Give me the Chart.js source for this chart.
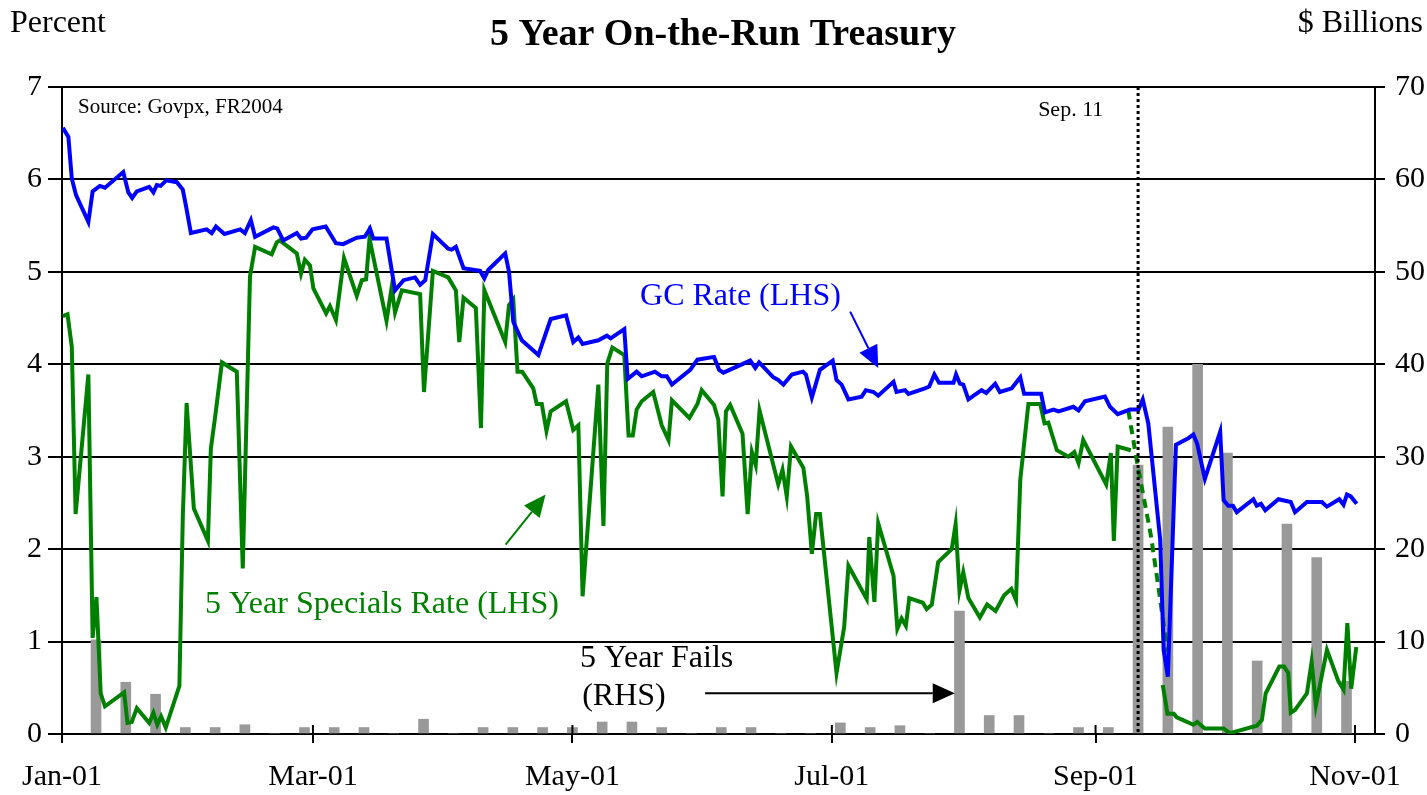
<!DOCTYPE html>
<html>
<head>
<meta charset="utf-8">
<script src="https://cdn.jsdelivr.net/npm/chart.js@4"></script>
<style>
  body { margin: 0; background: #fff; }
</style>
</head>
<body>
<canvas id="chart" width="1427" height="795"></canvas>
<script>
// 5 Year On-the-Run Treasury -- days counted from Jan 1, 2001

const tickDays = [0, 59, 120, 181, 243, 304];
const tickLabels = ["Jan-01", "Mar-01", "May-01", "Jul-01", "Sep-01", "Nov-01"];

// GC rate (LHS, percent)
const gcDays = [0.2, 1.5, 2.3, 3.3, 6.2, 7.2, 8.9, 10.1, 14.4, 15.6, 16.5, 17.6, 20.5, 21.5, 22.3, 23.2, 24.5, 27, 28.4, 29.2,
  30.3, 34, 35.2, 36.2, 38.2, 41.9, 43, 44.4, 45.4, 49.7, 50.6, 52, 55.2, 56.2, 57.4, 58.9, 62, 64.4, 66.1, 69.3,
  71.2, 72.4, 73.2, 76.3, 78.3, 80.3, 83, 84.2, 85.4, 87.2, 90.8, 91.6, 92.6, 94.4, 98.3, 99.3, 100.2, 104.2, 105.1, 106.1,
  108.1, 112, 114.9, 118.5, 120.2, 121.4, 122.4, 126.1, 128.1, 129, 132.2, 133, 135.1, 136.3, 139.4, 141, 142.2, 143.4, 147.7, 149.4,
  153.3, 154.5, 155.5, 161.8, 163, 163.9, 167.2, 168.4, 169.6, 171.6, 174.2, 174.9, 176.3, 178.2, 181.2, 182.1, 183.3, 184.9, 188, 189,
  190.8, 191.9, 195.5, 196.2, 198.2, 199, 202.9, 203.9, 205.1, 206.2, 209.6, 210.2, 211.1, 211.9, 213.1, 216.2, 217.3, 219.4, 220.5, 223.3,
  225.3, 226.2, 230.2, 231.1, 233.1, 234.3, 237.8, 239, 240.5, 245.2, 246.4, 248.2, 251.1, 253.1, 254.1, 255.4, 258.2, 259, 260, 261.9,
  264.8, 266, 266.9, 268.7, 272.3, 273.1, 274.2, 275.3, 276.2, 280.1, 280.9, 281.9, 282.9, 286, 288.9, 289.9, 292.7, 296.2, 297.4, 300.3,
  301.3, 302.1, 303, 304.4];
const gcRate = [6.56, 6.46, 6.01, 5.83, 5.54, 5.87, 5.93, 5.91, 6.08, 5.86, 5.80, 5.87, 5.92, 5.86, 5.94, 5.93, 5.99, 5.97, 5.89, 5.70,
  5.42, 5.46, 5.42, 5.49, 5.41, 5.46, 5.42, 5.56, 5.38, 5.48, 5.47, 5.34, 5.42, 5.36, 5.37, 5.46, 5.49, 5.31, 5.30, 5.37,
  5.38, 5.47, 5.36, 5.36, 4.80, 4.91, 4.94, 4.86, 4.91, 5.41, 5.25, 5.24, 5.27, 5.04, 5.01, 4.93, 5.02, 5.20, 5.00, 4.46,
  4.26, 4.10, 4.49, 4.53, 4.24, 4.29, 4.22, 4.26, 4.31, 4.28, 4.38, 3.84, 3.92, 3.87, 3.92, 3.87, 3.87, 3.78, 3.94, 4.05,
  4.08, 3.94, 3.91, 4.04, 3.96, 4.02, 3.86, 3.83, 3.78, 3.89, 3.92, 3.89, 3.64, 3.94, 4.04, 3.83, 3.78, 3.62, 3.65, 3.72,
  3.70, 3.66, 3.81, 3.70, 3.72, 3.68, 3.74, 3.76, 3.89, 3.80, 3.80, 3.89, 3.79, 3.78, 3.62, 3.72, 3.69, 3.79, 3.70, 3.74,
  3.86, 3.68, 3.68, 3.48, 3.51, 3.49, 3.54, 3.50, 3.60, 3.65, 3.54, 3.46, 3.51, 3.51, 3.62, 3.36, 2.10, 0.91, 0.62, 3.13,
  3.20, 3.24, 3.14, 2.76, 3.27, 2.53, 2.47, 2.47, 2.40, 2.54, 2.47, 2.49, 2.42, 2.54, 2.51, 2.40, 2.51, 2.51, 2.46, 2.54,
  2.48, 2.59, 2.57, 2.49];

// 5 year specials rate (LHS, percent); null marks the break around Sep 11
const specDays = [0.2, 1.3, 2.3, 3.2, 6.2, 7.2, 8.1, 9.1, 10.1, 14.6, 15.4, 16.4, 17.6, 20.5, 21.5, 22.4, 23.3, 24.4, 27.6, 28.4,
  29.3, 31, 34.3, 35, 36, 37.6, 41.1, 42.5, 44.2, 45.4, 49.3, 50.5, 51.2, 55.2, 56.2, 57.1, 58.3, 59.1, 62.1, 63,
  64.4, 66.3, 69.3, 70.5, 71.5, 72.3, 76.3, 77.5, 78.3, 79.9, 84.2, 85.1, 87.2, 90.8, 92.6, 93.4, 94.4, 97.3, 98.5, 99.3,
  104.2, 105.1, 106.1, 107.1, 108.2, 110.8, 111.6, 112.8, 113.9, 114.9, 118.5, 120.2, 121.4, 122.4, 126.1, 127.3, 128.2, 129.4, 132.2, 133.2,
  134.2, 135.1, 136.3, 139, 141, 142.6, 143.4, 147.5, 149.4, 150.4, 153.3, 154.3, 155.3, 156.1, 157.1, 160, 161.2, 162.2, 163.1, 164,
  168.4, 169.4, 170.4, 171.4, 174.3, 175.2, 176.3, 177.3, 178.2, 182.1, 183.9, 184.9, 189.2, 189.8, 191, 191.9, 195.5, 196.4, 197.4, 198.4,
  199.2, 202.4, 203.3, 204.5, 206, 209.2, 210.1, 211, 211.9, 213.1, 215.8, 217.5, 219.5, 221.5, 223.2, 224.3, 225.3, 227.2, 230, 231,
  231.9, 233.9, 236.6, 238, 239, 240.1, 245.5, 246.6, 247.3, 248.2, 251.3, 255,
  258.8, 259.9, 261.4, 262.1, 266, 266.9, 268.7, 273.1, 274.6, 280.9, 282.1, 283, 286.2, 287.3, 288.3, 288.9, 289.9, 292.7, 293.8, 294.8,
  297.4, 300.1, 301.3, 302.2, 303.1, 304.3];
const specRate = [4.52, 4.54, 4.19, 2.38, 3.89, 1.04, 1.48, 0.44, 0.30, 0.45, 0.12, 0.13, 0.28, 0.12, 0.23, 0.10, 0.19, 0.07, 0.52, 2.35,
  3.58, 2.44, 2.09, 3.09, 3.43, 4.02, 3.92, 1.79, 4.95, 5.27, 5.19, 5.32, 5.34, 5.20, 4.98, 5.13, 5.07, 4.82, 4.55, 4.63,
  4.48, 5.15, 4.74, 4.91, 4.92, 5.36, 4.47, 4.83, 4.56, 4.80, 4.76, 3.70, 5.01, 4.94, 4.80, 4.24, 4.72, 4.61, 3.31, 4.80,
  4.24, 4.64, 4.70, 3.92, 3.92, 3.74, 3.57, 3.57, 3.28, 3.49, 3.60, 3.29, 3.34, 1.49, 3.78, 2.25, 4.01, 4.18, 4.10, 3.23,
  3.23, 3.51, 3.60, 3.70, 3.34, 3.18, 3.61, 3.42, 3.57, 3.72, 3.56, 3.40, 2.57, 3.49, 3.56, 3.25, 2.38, 3.05, 2.91, 3.50,
  2.70, 2.86, 2.57, 3.11, 2.88, 2.57, 1.95, 2.38, 2.38, 0.66, 1.16, 1.82, 1.46, 2.13, 1.43, 2.28, 1.71, 1.14, 1.25, 1.17,
  1.47, 1.42, 1.35, 1.40, 1.86, 2.00, 2.27, 1.55, 1.75, 1.47, 1.26, 1.40, 1.33, 1.50, 1.57, 1.45, 2.75, 3.57, 3.57, 3.36,
  3.37, 3.07, 3.00, 3.05, 2.93, 3.18, 2.70, 3.04, 2.09, 3.11, 3.07, null,
  0.53, 0.22, 0.22, 0.18, 0.10, 0.13, 0.06, 0.06, 0.01, 0.09, 0.15, 0.44, 0.73, 0.73, 0.66, 0.23, 0.26, 0.44, 0.78, 0.31,
  0.91, 0.57, 0.48, 1.20, 0.49, 0.94];

// dashed bridge of the specials rate across Sep 11
const bridgeDays = [250.7, 252.8, 256, 258, 259.9];
const bridgeRate = [3.50, 2.93, 2.15, 1.52, 0.89];

// 5 year fails (RHS, $ billions), weekly
const failDays = [8, 15, 22, 29, 36, 43, 50, 57, 64, 71, 78, 85, 92, 99, 106, 113, 120, 127, 134, 141, 148, 155,
  162, 169, 176, 183, 190, 197, 204, 211, 218, 225, 232, 239, 246, 253, 260, 267, 274, 281, 288, 295, 302];
const failValues = [10.2, 5.6, 4.3, 0.7, 0.7, 1.0, 0, 0.7, 0.7, 0.7, 0, 1.6, 0, 0.7, 0.7, 0.7, 0.7, 1.3, 1.3, 0.7, 0, 0.7,
  0.7, 0, 0, 1.2, 0.7, 0.9, 0, 13.3, 2.0, 2.0, 0, 0.7, 0.7, 29.1, 33.2, 40.0, 30.4, 7.9, 22.7, 19.1, 5.7];

const sep11 = 253;

const SERIF = "'Liberation Serif', 'Times New Roman', serif";

function pairs(xs, ys) {
  return xs.map((x, i) => ({ x: x, y: ys[i] }));
}

function arrow(ctx, x1, y1, x2, y2, color) {
  const ang = Math.atan2(y2 - y1, x2 - x1);
  const len = 22, half = 10;
  ctx.save();
  ctx.strokeStyle = color;
  ctx.fillStyle = color;
  ctx.lineWidth = 2;
  ctx.beginPath();
  ctx.moveTo(x1, y1);
  ctx.lineTo(x2 - Math.cos(ang) * len, y2 - Math.sin(ang) * len);
  ctx.stroke();
  ctx.beginPath();
  ctx.moveTo(x2, y2);
  ctx.lineTo(x2 - Math.cos(ang) * len - Math.sin(ang) * half, y2 - Math.sin(ang) * len + Math.cos(ang) * half);
  ctx.lineTo(x2 - Math.cos(ang) * len + Math.sin(ang) * half, y2 - Math.sin(ang) * len - Math.cos(ang) * half);
  ctx.closePath();
  ctx.fill();
  ctx.restore();
}

const annotations = {
  id: "annotations",
  afterDatasetsDraw(chart) {
    const ctx = chart.ctx;
    const xs = chart.scales.x, ys = chart.scales.y;
    const px = (d) => xs.getPixelForValue(d);
    const py = (v) => ys.getPixelForValue(v);
    const area = chart.chartArea;

    // Sep 11 dotted line
    ctx.save();
    ctx.strokeStyle = "#000";
    ctx.lineWidth = 3;
    ctx.setLineDash([3, 3]);
    ctx.beginPath();
    ctx.moveTo(px(sep11), area.top);
    ctx.lineTo(px(sep11), area.bottom);
    ctx.stroke();
    ctx.restore();

    // x ticks crossing into the plot
    ctx.save();
    ctx.strokeStyle = "#000";
    ctx.lineWidth = 2;
    tickDays.forEach((d) => {
      ctx.beginPath();
      ctx.moveTo(px(d), area.bottom - 9);
      ctx.lineTo(px(d), area.bottom);
      ctx.stroke();
    });
    ctx.restore();

    ctx.save();
    ctx.textBaseline = "alphabetic";
    ctx.textAlign = "left";
    ctx.fillStyle = "#000";
    ctx.font = "21px " + SERIF;
    ctx.fillText("Source: Govpx, FR2004", px(3.76), py(6.72));
    ctx.font = "22px " + SERIF;
    ctx.fillText("Sep. 11", px(229.5), py(6.69));

    ctx.font = "32px " + SERIF;
    ctx.fillStyle = "#0000ff";
    ctx.fillText("GC Rate (LHS)", px(135.9), py(4.64));
    ctx.fillStyle = "#008000";
    ctx.fillText("5 Year Specials Rate (LHS)", px(33.6), py(1.31));
    ctx.fillStyle = "#000";
    ctx.fillText("5 Year Fails", px(121.8), py(0.725));
    ctx.fillText("(RHS)", px(122.3), py(0.314));
    ctx.restore();

    arrow(ctx, px(185.3), py(4.57), px(191.9), py(3.96), "#0000ff");
    arrow(ctx, px(104.3), py(2.05), px(113.7), py(2.59), "#008000");
    arrow(ctx, px(151.2), py(0.44), px(209.9), py(0.44), "#000");

    // header texts
    ctx.save();
    ctx.fillStyle = "#000";
    ctx.textBaseline = "alphabetic";
    ctx.font = "bold 38px " + SERIF;
    ctx.textAlign = "center";
    ctx.fillText("5 Year On-the-Run Treasury", 723, 45);
    ctx.font = "32px " + SERIF;
    ctx.textAlign = "left";
    ctx.fillText("Percent", 10, 32);
    ctx.textAlign = "right";
    ctx.fillText("$ Billions", 1423, 32);
    ctx.restore();
  }
};

new Chart(document.getElementById("chart"), {
  type: "line",
  data: {
    datasets: [
      {
        label: "GC Rate (LHS)",
        data: pairs(gcDays, gcRate),
        borderColor: "#0000ff",
        borderWidth: 4,
        pointRadius: 0,
        yAxisID: "y",
        order: 1
      },
      {
        label: "5 Year Specials Rate (LHS)",
        data: pairs(specDays, specRate),
        borderColor: "#008000",
        borderWidth: 4,
        pointRadius: 0,
        spanGaps: false,
        yAxisID: "y",
        order: 2
      },
      {
        label: "bridge",
        data: pairs(bridgeDays, bridgeRate),
        borderColor: "#008000",
        borderWidth: 4,
        borderDash: [9, 6],
        pointRadius: 0,
        yAxisID: "y",
        order: 2
      },
      {
        type: "bar",
        label: "5 Year Fails (RHS)",
        data: pairs(failDays, failValues),
        backgroundColor: "#999999",
        barThickness: 10,
        yAxisID: "y2",
        order: 5
      }
    ]
  },
  options: {
    responsive: false,
    animation: false,
    layout: { padding: { top: 87, left: 0, right: 0, bottom: 0 } },
    plugins: {
      legend: { display: false },
      title: { display: false },
      tooltip: { enabled: false }
    },
    scales: {
      x: {
        type: "linear",
        min: 0,
        max: 308.7,
        offset: false,
        afterFit: (s) => { s.height = 61; },
        afterBuildTicks: (s) => { s.ticks = tickDays.map((d) => ({ value: d })); },
        ticks: {
          autoSkip: false,
          maxRotation: 0,
          padding: 16,
          color: "#000",
          font: { family: SERIF, size: 30 },
          callback: (v) => tickLabels[tickDays.indexOf(v)]
        },
        grid: { offset: false, drawOnChartArea: false, color: "#000", lineWidth: 2, tickLength: 9 },
        border: { display: true, color: "#000", width: 2 }
      },
      y: {
        position: "left",
        min: 0,
        max: 7,
        afterFit: (s) => { s.width = 62; },
        ticks: {
          stepSize: 1,
          padding: 6,
          color: "#000",
          font: { family: SERIF, size: 30 }
        },
        grid: { color: "#000", lineWidth: 2, tickLength: 14 },
        border: { display: true, color: "#000", width: 2 }
      },
      y2: {
        position: "right",
        min: 0,
        max: 70,
        afterFit: (s) => { s.width = 52; },
        ticks: {
          stepSize: 10,
          padding: 10,
          color: "#000",
          font: { family: SERIF, size: 30 }
        },
        grid: { drawOnChartArea: false, color: "#000", lineWidth: 2, tickLength: 10 },
        border: { display: true, color: "#000", width: 2 }
      }
    }
  },
  plugins: [annotations]
});
</script>
</body>
</html>
